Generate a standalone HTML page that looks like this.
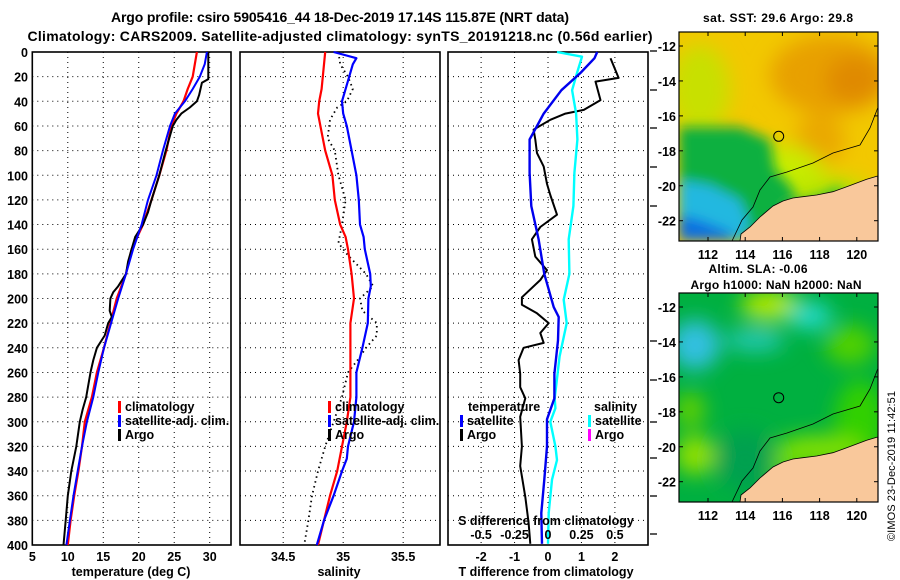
<!DOCTYPE html>
<html><head><meta charset="utf-8"><style>
html,body{margin:0;padding:0;background:#fff;}
svg{display:block;font-family:"Liberation Sans",sans-serif;font-weight:bold;}
</style></head><body>
<svg id="fig" width="900" height="580" viewBox="0 0 900 580" xmlns="http://www.w3.org/2000/svg">
<defs>
<filter id="blur4" x="-20%" y="-20%" width="140%" height="140%"><feGaussianBlur stdDeviation="6"/></filter>
<filter id="blur8" x="-20%" y="-20%" width="140%" height="140%"><feGaussianBlur stdDeviation="10"/></filter>
<clipPath id="cm1"><rect x="679" y="32" width="199" height="209"/></clipPath>
<clipPath id="cm2"><rect x="679" y="293" width="199" height="209"/></clipPath>
</defs>
<text x="340" y="22" text-anchor="middle" font-size="14" textLength="458">Argo profile: csiro 5905416_44 18-Dec-2019 17.14S 115.87E (NRT data)</text>
<text x="340" y="41" text-anchor="middle" font-size="14" textLength="625">Climatology: CARS2009. Satellite-adjusted climatology: synTS_20191218.nc (0.56d earlier)</text>
<g id="p1"></g>
<g id="p2"></g>
<g id="p3"></g>

<!-- Map 1: SST -->
<g>
<text x="778" y="22" text-anchor="middle" font-size="12" textLength="150">sat. SST: 29.6 Argo: 29.8</text>
<g clip-path="url(#cm1)">
<rect x="679" y="32" width="199" height="209" fill="#f2c800"/>
<g filter="url(#blur8)">
<ellipse cx="830" cy="75" rx="60" ry="40" fill="#e8a000"/>
<ellipse cx="855" cy="80" rx="30" ry="25" fill="#e08a00"/>
<ellipse cx="820" cy="140" rx="25" ry="25" fill="#eaa800"/>
<ellipse cx="700" cy="90" rx="30" ry="45" fill="#c8e000"/>
<ellipse cx="780" cy="175" rx="45" ry="30" fill="#c8ec00"/>
<ellipse cx="830" cy="195" rx="40" ry="18" fill="#b8e400"/>
</g>
<g filter="url(#blur4)">
<path d="M679,127 L740,127 L770,140 L775,170 L790,185 L800,205 L770,230 L740,241 L679,241Z" fill="#10b040"/>
<path d="M780,205 L820,195 L840,185 L845,200 L810,210 L790,215Z" fill="#40c030"/>
<path d="M679,180 L710,185 L740,200 L750,225 L740,241 L679,241Z" fill="#20b8e0"/>
<path d="M679,215 L700,220 L730,232 L735,241 L679,241Z" fill="#1070e0"/>
</g>
</g>
<path d="M877.7,176 L866.7,179.3 L846.7,186.7 L833,191.7 L816.7,195 L803,196.7 L793,198 L783,201 L773,206 L760,217 L750,227 L741,234 L740,241 L878,241Z" fill="#f9c89b" stroke="#000" stroke-width="0.8"/>
<path d="M877.7,108 L870,128 L860,145 L833,153 L813,163 L787,172 L770,177 L760,190 L753,207 L742,220 L732,241" fill="none" stroke="#000" stroke-width="0.8"/>
<circle cx="778.7" cy="136.3" r="5" fill="none" stroke="#000" stroke-width="1"/>
<rect x="679" y="32" width="199" height="209" fill="none" stroke="#000" stroke-width="1.2"/>
<g id="m1axes"></g>
</g>

<!-- Map 2: SLA -->
<g>
<text x="758" y="273" text-anchor="middle" font-size="12" textLength="99">Altim. SLA: -0.06</text>
<text x="776" y="289" text-anchor="middle" font-size="12" textLength="171">Argo h1000: NaN h2000: NaN</text>
<g clip-path="url(#cm2)">
<rect x="679" y="293" width="199" height="209" fill="#00b040"/>
<g filter="url(#blur8)">
<ellipse cx="770" cy="305" rx="30" ry="15" fill="#b0e800"/>
<ellipse cx="810" cy="316" rx="22" ry="14" fill="#20d8c8"/>
<ellipse cx="755" cy="340" rx="30" ry="12" fill="#20c8b0"/>
<ellipse cx="695" cy="345" rx="25" ry="25" fill="#30c0e0"/>
<ellipse cx="690" cy="410" rx="15" ry="18" fill="#60d000"/>
<ellipse cx="695" cy="455" rx="20" ry="20" fill="#90e000"/>
<ellipse cx="850" cy="345" rx="25" ry="20" fill="#50d000"/>
<ellipse cx="860" cy="420" rx="25" ry="40" fill="#30d000"/>
<ellipse cx="820" cy="450" rx="45" ry="15" fill="#80e000"/>
<ellipse cx="780" cy="470" rx="20" ry="10" fill="#60d800"/>
<ellipse cx="745" cy="460" rx="30" ry="30" fill="#00a050"/>
</g>
</g>
<path d="M877.7,437 L866.7,440.3 L846.7,447.7 L833,452.7 L816.7,456 L803,457.7 L793,459 L783,462 L773,467 L760,478 L750,488 L741,495 L740,502 L878,502Z" fill="#f9c89b" stroke="#000" stroke-width="0.8"/>
<path d="M877.7,369 L870,389 L860,406 L833,414 L813,424 L787,433 L770,438 L760,451 L753,468 L742,481 L732,502" fill="none" stroke="#000" stroke-width="0.8"/>
<circle cx="778.7" cy="397.7" r="5" fill="none" stroke="#000" stroke-width="1"/>
<rect x="679" y="293" width="199" height="209" fill="none" stroke="#000" stroke-width="1.2"/>
<g id="m2axes"></g>
</g>
<text transform="translate(895,466) rotate(-90)" text-anchor="middle" font-size="11" font-weight="normal" textLength="150">©IMOS 23-Dec-2019 11:42:51</text>
</svg>
<script>
// ---------- data ----------
const depthTicks = [0,20,40,60,80,100,120,140,160,180,200,220,240,260,280,300,320,340,360,380,400];
const tempTicks = [5,10,15,20,25,30];
const salTicks = [34.5,35,35.5];
const salTickLabels = ["34.5","35","35.5"];
const tdiffTicks = [-2,-1,0,1,2];
const sdiffTicks = [-0.5,-0.25,0,0.25,0.5];
const sdiffTickLabels = ["-0.5","-0.25","0","0.25","0.5"];

const climTempDepth = [0,10,20,30,40,50,60,80,100,120,140,160,180,200,220,240,260,280,300,320,340,360,380,400];
const climTemp = [28.2,27.9,27.6,26.9,26.3,25.3,24.6,23.9,22.9,21.8,20.6,19.0,18.2,16.9,16.0,15.1,14.1,13.4,12.4,12.0,11.5,10.9,10.4,10.0];
const satTempDepth = [0,10,20,30,40,50,60,80,100,120,140,160,180,200,220,240,260,280,300,320,340,360,380,400];
const satTemp = [29.6,29.3,28.6,27.6,26.5,25.1,24.4,23.4,22.5,21.3,20.4,19.2,18.2,17.1,16.1,15.1,14.3,13.6,12.7,12.0,11.4,10.8,10.3,9.8];
const argoTempDepth = [0,22,25,35,40,45,50,55,60,80,100,120,130,140,150,160,170,180,190,195,200,210,215,220,230,240,250,260,280,290,300,320,340,360,380,400];
const argoTemp = [29.8,29.8,28.9,28.5,28.2,27.2,26.0,25.3,24.8,23.8,22.9,21.8,21.3,20.6,19.5,19.0,18.5,18.2,17.1,16.4,16.0,15.9,16.2,15.7,15.2,14.1,13.6,13.2,12.6,12.1,11.7,11.2,10.5,10.0,9.7,9.4];

const climSalDepth = [0,20,30,40,50,60,80,100,120,140,150,160,180,200,220,240,260,280,300,320,340,360,380,400];
const climSal = [34.85,34.83,34.82,34.80,34.79,34.81,34.85,34.91,34.93,34.975,35.02,35.04,35.07,35.09,35.06,35.06,35.06,35.06,35.03,34.99,34.95,34.89,34.84,34.79];
const satSalDepth = [0,5,10,20,30,40,50,60,80,100,120,140,150,160,180,190,200,220,240,260,280,300,320,330,340,360,380,400];
const satSal = [34.92,35.11,35.08,35.05,35.02,34.99,35.0,35.03,35.07,35.11,35.13,35.14,35.17,35.18,35.225,35.23,35.21,35.205,35.16,35.11,35.11,35.09,35.04,35.03,34.99,34.92,34.84,34.78];
const argoSalDepth = [0,10,20,30,40,45,55,70,80,100,120,140,155,165,180,190,200,210,220,230,240,250,260,280,300,320,340,360,380,400];
const argoSal = [34.96,34.975,35.04,35.08,35.03,34.95,34.89,34.87,34.93,34.96,35.02,34.99,34.96,35.04,35.19,35.25,35.14,35.16,35.28,35.28,35.19,35.12,35.04,34.99,34.92,34.85,34.79,34.74,34.71,34.675];

const satTdiffDepth = [0,5,17,31,50,60,71,98,125,152,180,207,215,234,261,281,298,320,347,374,399];
const satTdiff = [1.47,1.39,0.97,0.40,-0.13,-0.33,-0.55,-0.55,-0.5,-0.28,-0.11,0.17,0.32,0.30,0.19,0.19,-0.03,-0.03,-0.11,-0.2,-0.18];
const argoTdiffDepth = [5,21,24,39,47,50,55,63,71,82,93,107,116,132,142,152,166,177,185,199,205,212,220,228,236,240,250,261,272,281,296,320,336,361,382,399];
const argoTdiff = [1.87,2.11,1.42,1.57,1.07,0.52,0.07,-0.43,-0.38,-0.33,-0.13,-0.03,0.07,0.27,-0.23,-0.48,-0.38,-0.03,-0.23,-0.78,-0.78,-0.33,0.02,-0.23,-0.13,-0.73,-0.88,-0.83,-0.83,-0.68,-0.83,-0.78,-0.83,-0.68,-0.58,-0.53];
const satSdiffDepth = [0,3.8,17,31,50,71,98,125,152,180,201,220,247,281,289,300,320,331,347,374,399];
const satSdiff = [0.067,0.254,0.217,0.18,0.21,0.22,0.197,0.19,0.155,0.16,0.117,0.14,0.087,0.05,0.055,0.017,0.055,0.067,0.03,0.005,0.0];

const lonTicks = [112,114,116,118,120];
const latTicks = [-12,-14,-16,-18,-20,-22];

// ---------- axes ----------
const Y0 = 52, Y1 = 545;
const yD = d => Y0 + d * (Y1 - Y0) / 400;
const P1 = {l:32.3, r:231, min:5, max:33};
const P2 = {l:240, r:440, min:34.14, max:35.807};
const P3 = {l:448, r:648, min:-2.99, max:2.99};
const xs = P => v => P.l + (v - P.min) * (P.r - P.l) / (P.max - P.min);
const xT = xs(P1), xS = xs(P2), xTd = xs(P3);
const xSd = v => xTd(v * 4);

const NS = "http://www.w3.org/2000/svg";
function mk(parent, tag, attrs, text) {
  const e = document.createElementNS(NS, tag);
  for (const k in attrs) e.setAttribute(k, attrs[k]);
  if (text !== undefined) e.textContent = text;
  parent.appendChild(e);
  return e;
}
function series(parent, xf, vals, depths, color, w, dash, name) {
  let d = "";
  for (let i = 0; i < vals.length; i++) d += (i ? "L" : "M") + xf(vals[i]).toFixed(1) + "," + yD(depths[i]).toFixed(1);
  const a = {d: d, fill: "none", stroke: color, "stroke-width": w, "stroke-linejoin": "round"};
  if (dash) a["stroke-dasharray"] = dash;
  const p = mk(parent, "path", a);
  
  
  return p;
}
function frame(g, P, vTicks, xf, showY) {
  for (const d of depthTicks) {
    if (d === 0 || d === 400) continue;
    const l = mk(g, "line", {x1: P.l, x2: P.r, y1: yD(d), y2: yD(d), stroke: "#000", "stroke-width": 1, "stroke-dasharray": "1 4"});
    
    
  }
  for (const v of vTicks) {
    const x = xf(v);
    if (x <= P.l + 1 || x >= P.r - 1) continue;
    const l = mk(g, "line", {x1: x, x2: x, y1: Y0, y2: Y1, stroke: "#000", "stroke-width": 1, "stroke-dasharray": "1 4"});
    
    
  }
  const r = mk(g, "rect", {x: P.l, y: Y0, width: P.r - P.l, height: Y1 - Y0, fill: "none", stroke: "#000", "stroke-width": 1.6});
  
  
  if (showY) {
    for (const d of depthTicks) {
      const t = mk(g, "text", {x: 28, y: yD(d) + 5, "text-anchor": "end", "font-size": 12.5}, String(d));
      
      
    }
  }
}
function legend(g, x, y, items) {
  items.forEach((it, i) => {
    const yy = y + i * 14;
    if (it.c) {
      const b = mk(g, "rect", {x: x, y: yy - 10, width: 3, height: 12, fill: it.c});
      
      
    }
    const t = mk(g, "text", {x: x + (it.c ? 7 : 0), y: yy, "font-size": 12.5}, it.t);
    
    
  });
}

// Panel 1
const g1 = document.getElementById("p1");
frame(g1, P1, tempTicks, xT, true);
series(g1, xT, climTemp, climTempDepth, "#ff0000", 2.2, null, "climatology-temperature-line");
series(g1, xT, argoTemp, argoTempDepth, "#000", 2, null, "argo-temperature-line");
series(g1, xT, satTemp, satTempDepth, "#0000ff", 2, null, "satellite-temperature-line");
for (const v of tempTicks) {
  const t = mk(g1, "text", {x: xT(v), y: 561, "text-anchor": "middle", "font-size": 12.5}, String(v));
  
  
}
const a1 = mk(g1, "text", {x: 131, y: 576, "text-anchor": "middle", "font-size": 12.5}, "temperature (deg C)");


legend(g1, 118, 411, [{c: "#ff0000", t: "climatology"}, {c: "#0000ff", t: "satellite-adj. clim."}, {c: "#000", t: "Argo"}]);

// Panel 2
const g2 = document.getElementById("p2");
frame(g2, P2, salTicks, xS, false);
series(g2, xS, argoSal, argoSalDepth, "#000", 1.8, "1.5 3.5", "argo-salinity-line");
series(g2, xS, climSal, climSalDepth, "#ff0000", 2.2, null, "climatology-salinity-line");
series(g2, xS, satSal, satSalDepth, "#0000ff", 2.2, null, "satellite-salinity-line");
salTicks.forEach((v, i) => {
  const t = mk(g2, "text", {x: xS(v), y: 561, "text-anchor": "middle", "font-size": 12.5}, salTickLabels[i]);
  
  
});
const a2 = mk(g2, "text", {x: 339, y: 576, "text-anchor": "middle", "font-size": 12.5}, "salinity");


legend(g2, 328, 411, [{c: "#ff0000", t: "climatology"}, {c: "#0000ff", t: "satellite-adj. clim."}, {c: "#000", t: "Argo"}]);

// Panel 3
const g3 = document.getElementById("p3");
frame(g3, P3, tdiffTicks, xTd, false);
series(g3, xTd, argoTdiff, argoTdiffDepth, "#000", 2, null, "argo-temperature-difference-line");
series(g3, xSd, satSdiff, satSdiffDepth, "#00ffff", 2.4, null, "satellite-salinity-difference-line");
series(g3, xTd, satTdiff, satTdiffDepth, "#0000ee", 2.4, null, "satellite-temperature-difference-line");
[51,90,128,167,206,341,380,422,458,496,534].forEach(y => {
  const l = mk(g3, "line", {x1: 650, x2: 657, y1: y, y2: y, stroke: "#000", "stroke-width": 1.3});
  
  
});
for (const v of tdiffTicks) {
  const t = mk(g3, "text", {x: xTd(v), y: 561, "text-anchor": "middle", "font-size": 12.5}, String(v));
  
  
}
sdiffTicks.forEach((v, i) => {
  const t = mk(g3, "text", {x: xSd(v), y: 539, "text-anchor": "middle", "font-size": 12.5}, sdiffTickLabels[i]);
  
  
});
const s3 = mk(g3, "text", {x: 546, y: 525, "text-anchor": "middle", "font-size": 12.5}, "S difference from climatology");


const a3 = mk(g3, "text", {x: 546, y: 576, "text-anchor": "middle", "font-size": 12.5}, "T difference from climatology");


legend(g3, 468, 411, [{t: "temperature"}]);
legend(g3, 460, 425, [{c: "#0000ff", t: "satellite"}, {c: "#000", t: "Argo"}]);
legend(g3, 594, 411, [{t: "salinity"}]);
legend(g3, 588, 425, [{c: "#00ffff", t: "satellite"}, {c: "#ff00ff", t: "Argo"}]);

// Map axes
const xLon = lon => 708 + (lon - 112) * 18.6;
function mapAxes(id, top) {
  const g = document.getElementById(id);
  const yLat = lat => top + 14 + (-12 - lat) * 17.47;
  for (const lon of lonTicks) {
    const x = xLon(lon);
    mk(g, "line", {x1: x, x2: x, y1: top, y2: top + 4, stroke: "#000"});
    mk(g, "line", {x1: x, x2: x, y1: top + 205, y2: top + 209, stroke: "#000"});
    const t = mk(g, "text", {x: x, y: top + 227, "text-anchor": "middle", "font-size": 12.5}, String(lon));
    
    
  }
  for (const lat of latTicks) {
    const y = yLat(lat);
    mk(g, "line", {x1: 679, x2: 683, y1: y, y2: y, stroke: "#000"});
    mk(g, "line", {x1: 874, x2: 878, y1: y, y2: y, stroke: "#000"});
    const t = mk(g, "text", {x: 676, y: y + 5, "text-anchor": "end", "font-size": 12.5}, String(lat));
    
    
  }
}
mapAxes("m1axes", 32);
mapAxes("m2axes", 293);
</script>
</body></html>
